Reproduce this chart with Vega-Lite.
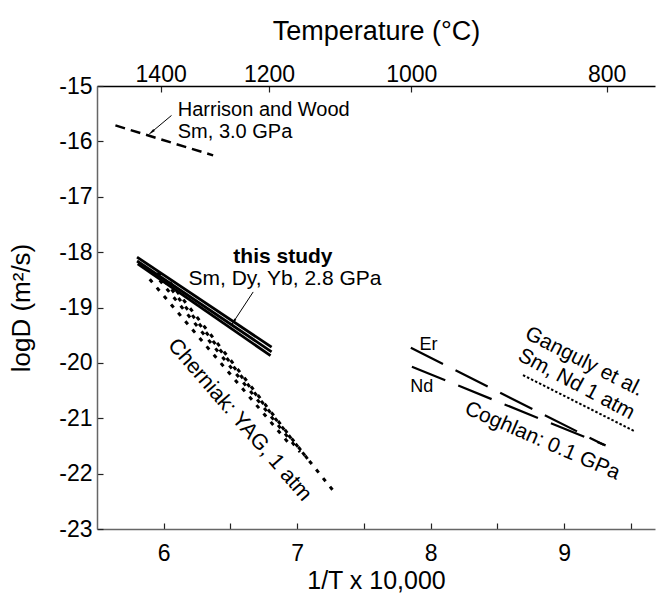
{
  "$schema": "https://vega.github.io/schema/vega-lite/v6.json",
  "width": 558,
  "height": 443,
  "autosize": "none",
  "padding": {"left": 97, "top": 86, "right": 1, "bottom": 66},
  "background": "white",
  "config": {
    "font": "Liberation Sans",
    "view": {"stroke": null},
    "axis": {"labelFont": "Liberation Sans", "titleFont": "Liberation Sans", "labelColor": "#000", "titleColor": "#000", "titleFontWeight": "normal", "grid": false, "labelFontSize": 23, "titleFontSize": 26, "tickColor": "#222", "tickWidth": 1.2, "domainWidth": 1.5, "labelFlush": false, "labelOverlap": false}
  },
  "datasets": {
    "lines": [
      {"grp": "study", "s": "s1", "x": 5.80, "y": -18.09},
      {"grp": "study", "s": "s1", "x": 6.808, "y": -19.716},
      {"grp": "study", "s": "s2", "x": 5.80, "y": -18.16},
      {"grp": "study", "s": "s2", "x": 6.808, "y": -19.80},
      {"grp": "study", "s": "s3", "x": 5.805, "y": -18.21},
      {"grp": "study", "s": "s3", "x": 6.80, "y": -19.87},
      {"grp": "hw", "s": "h1", "x": 5.638, "y": -15.712},
      {"grp": "hw", "s": "h1", "x": 6.370, "y": -16.253},
      {"grp": "cher", "s": "c1", "x": 5.895, "y": -18.49},
      {"grp": "cher", "s": "c1", "x": 6.961, "y": -21.52},
      {"grp": "cher", "s": "c2", "x": 5.970, "y": -18.508},
      {"grp": "cher", "s": "c2", "x": 7.021, "y": -21.61},
      {"grp": "cher", "s": "c3", "x": 6.045, "y": -18.544},
      {"grp": "cher", "s": "c3", "x": 7.096, "y": -21.79},
      {"grp": "cher", "s": "c4", "x": 5.955, "y": -18.364},
      {"grp": "cher", "s": "c4", "x": 7.283, "y": -22.349},
      {"grp": "cogh", "s": "Er", "x": 7.851, "y": -19.728},
      {"grp": "cogh", "s": "Er", "x": 9.296, "y": -21.48},
      {"grp": "cogh", "s": "Nd", "x": 7.859, "y": -20.071},
      {"grp": "cogh", "s": "Nd", "x": 9.31, "y": -21.49},
      {"grp": "gang", "s": "g1", "x": 8.691, "y": -20.221},
      {"grp": "gang", "s": "g1", "x": 9.534, "y": -21.243}
    ],
    "arrows": [
      {"id": "hw", "x": 6.058, "y": -15.532, "x2": 5.912, "y2": -15.826},
      {"id": "study", "x": 6.670, "y": -18.719, "x2": 6.525, "y2": -19.25}
    ],
    "notes": [
      {"id": "hw1", "label": "Harrison and Wood", "x": 6.105, "y": -15.55},
      {"id": "hw2", "label": "Sm, 3.0 GPa", "x": 6.105, "y": -15.938},
      {"id": "st1", "label": "this study", "x": 6.893, "y": -18.201},
      {"id": "st2", "label": "Sm, Dy, Yb, 2.8 GPa", "x": 6.908, "y": -18.598},
      {"id": "cher", "label": "Cherniak: YAG, 1 atm", "x": 6.567, "y": -21.033},
      {"id": "er", "label": "Er", "x": 7.983, "y": -19.68},
      {"id": "nd", "label": "Nd", "x": 7.933, "y": -20.43},
      {"id": "cogh", "label": "Coghlan:  0.1 GPa", "x": 8.836, "y": -21.411},
      {"id": "g1", "label": "Ganguly et al.", "x": 9.150, "y": -19.981},
      {"id": "g2", "label": "Sm, Nd 1 atm", "x": 9.090, "y": -20.387}
    ]
  },
  "resolve": {"axis": {"x": "independent"}},
  "layer": [
    {
      "data": {"name": "lines"},
      "transform": [{"filter": "datum.grp == 'study'"}],
      "mark": {"type": "line", "color": "black", "strokeWidth": 2.8},
      "encoding": {
        "x": {"field": "x", "type": "quantitative", "scale": {"domain": [5.5, 9.68], "nice": false, "zero": false},
          "axis": {"orient": "bottom", "values": [6, 6.5, 7, 7.5, 8, 8.5, 9, 9.5], "labelExpr": "datum.value % 1 == 0 ? format(datum.value, 'd') : ''", "title": "1/T x 10,000", "tickSize": -6, "labelPadding": 19, "titlePadding": 3, "titleFontSize": 25, "domainColor": "#666"}},
        "y": {"field": "y", "type": "quantitative", "scale": {"domain": [-23, -15], "nice": false, "zero": false},
          "axis": {"values": [-23, -22, -21, -20, -19, -18, -17, -16, -15], "labelExpr": "'-' + format(abs(datum.value), 'd')", "title": "logD (m²/s)", "tickSize": -6, "labelPadding": 11, "titlePadding": 24, "domainColor": "#666"}},
        "detail": {"field": "s"}
      }
    },
    {
      "data": {"name": "lines"},
      "transform": [{"filter": "datum.grp == 'hw'"}],
      "mark": {"type": "line", "color": "black", "strokeWidth": 2.5, "strokeDash": [10, 6]},
      "encoding": {
        "x": {"field": "x", "type": "quantitative",
          "axis": {"orient": "top", "values": [5.9767, 6.7882, 7.8545, 9.3184], "labelExpr": "format(round(10000 / datum.value - 273.15), 'd')", "title": "Temperature (°C)", "tickSize": -6, "labelPadding": 6, "titlePadding": 18, "titleFontSize": 27, "domainColor": "#000"}},
        "y": {"field": "y", "type": "quantitative"},
        "detail": {"field": "s"}
      }
    },
    {
      "data": {"name": "lines"},
      "transform": [{"filter": "datum.grp == 'cher'"}],
      "mark": {"type": "line", "color": "black", "strokeWidth": 3, "strokeDash": [4, 7]},
      "encoding": {
        "x": {"field": "x", "type": "quantitative", "axis": null},
        "y": {"field": "y", "type": "quantitative"},
        "detail": {"field": "s"}
      }
    },
    {
      "data": {"name": "lines"},
      "transform": [{"filter": "datum.grp == 'cogh'"}],
      "mark": {"type": "line", "color": "black", "strokeWidth": 2.2, "strokeDash": [36, 14]},
      "encoding": {
        "x": {"field": "x", "type": "quantitative", "axis": null},
        "y": {"field": "y", "type": "quantitative"},
        "detail": {"field": "s"}
      }
    },
    {
      "data": {"name": "lines"},
      "transform": [{"filter": "datum.grp == 'gang'"}],
      "mark": {"type": "line", "color": "black", "strokeWidth": 2, "strokeDash": [2.5, 2]},
      "encoding": {
        "x": {"field": "x", "type": "quantitative", "axis": null},
        "y": {"field": "y", "type": "quantitative"},
        "detail": {"field": "s"}
      }
    },
    {
      "data": {"name": "arrows"},
      "mark": {"type": "rule", "color": "black", "strokeWidth": 1},
      "encoding": {
        "x": {"field": "x", "type": "quantitative", "axis": null},
        "y": {"field": "y", "type": "quantitative"},
        "x2": {"field": "x2"},
        "y2": {"field": "y2"}
      }
    },
    {
      "data": {"name": "arrows"},
      "transform": [{"filter": "datum.id == 'hw'"}],
      "mark": {"type": "point", "shape": "wedge", "filled": true, "color": "black", "size": 90, "angle": 230, "opacity": 1},
      "encoding": {
        "x": {"field": "x2", "type": "quantitative", "axis": null},
        "y": {"field": "y2", "type": "quantitative"}
      }
    },
    {
      "data": {"name": "arrows"},
      "transform": [{"filter": "datum.id == 'study'"}],
      "mark": {"type": "point", "shape": "wedge", "filled": true, "color": "black", "size": 90, "angle": 214, "opacity": 1},
      "encoding": {
        "x": {"field": "x2", "type": "quantitative", "axis": null},
        "y": {"field": "y2", "type": "quantitative"}
      }
    },
    {
      "data": {"name": "notes"},
      "transform": [{"filter": "datum.id == 'hw1' || datum.id == 'hw2'"}],
      "mark": {"type": "text", "align": "left", "baseline": "alphabetic", "fontSize": 20, "color": "black"},
      "encoding": {
        "x": {"field": "x", "type": "quantitative", "axis": null},
        "y": {"field": "y", "type": "quantitative"},
        "text": {"field": "label"}
      }
    },
    {
      "data": {"name": "notes"},
      "transform": [{"filter": "datum.id == 'st1'"}],
      "mark": {"type": "text", "align": "center", "baseline": "alphabetic", "fontSize": 21, "fontWeight": "bold", "color": "black"},
      "encoding": {
        "x": {"field": "x", "type": "quantitative", "axis": null},
        "y": {"field": "y", "type": "quantitative"},
        "text": {"field": "label"}
      }
    },
    {
      "data": {"name": "notes"},
      "transform": [{"filter": "datum.id == 'st2'"}],
      "mark": {"type": "text", "align": "center", "baseline": "alphabetic", "fontSize": 21, "color": "black"},
      "encoding": {
        "x": {"field": "x", "type": "quantitative", "axis": null},
        "y": {"field": "y", "type": "quantitative"},
        "text": {"field": "label"}
      }
    },
    {
      "data": {"name": "notes"},
      "transform": [{"filter": "datum.id == 'cher'"}],
      "mark": {"type": "text", "align": "center", "baseline": "middle", "fontSize": 21.5, "angle": 49, "color": "black"},
      "encoding": {
        "x": {"field": "x", "type": "quantitative", "axis": null},
        "y": {"field": "y", "type": "quantitative"},
        "text": {"field": "label"}
      }
    },
    {
      "data": {"name": "notes"},
      "transform": [{"filter": "datum.id == 'er' || datum.id == 'nd'"}],
      "mark": {"type": "text", "align": "center", "baseline": "middle", "fontSize": 18, "color": "black"},
      "encoding": {
        "x": {"field": "x", "type": "quantitative", "axis": null},
        "y": {"field": "y", "type": "quantitative"},
        "text": {"field": "label"}
      }
    },
    {
      "data": {"name": "notes"},
      "transform": [{"filter": "datum.id == 'cogh'"}],
      "mark": {"type": "text", "align": "center", "baseline": "middle", "fontSize": 21, "angle": 23.5, "color": "black"},
      "encoding": {
        "x": {"field": "x", "type": "quantitative", "axis": null},
        "y": {"field": "y", "type": "quantitative"},
        "text": {"field": "label"}
      }
    },
    {
      "data": {"name": "notes"},
      "transform": [{"filter": "datum.id == 'g1'"}],
      "mark": {"type": "text", "align": "center", "baseline": "middle", "fontSize": 21, "angle": 27, "color": "black"},
      "encoding": {
        "x": {"field": "x", "type": "quantitative", "axis": null},
        "y": {"field": "y", "type": "quantitative"},
        "text": {"field": "label"}
      }
    },
    {
      "data": {"name": "notes"},
      "transform": [{"filter": "datum.id == 'g2'"}],
      "mark": {"type": "text", "align": "center", "baseline": "middle", "fontSize": 21, "angle": 28, "color": "black"},
      "encoding": {
        "x": {"field": "x", "type": "quantitative", "axis": null},
        "y": {"field": "y", "type": "quantitative"},
        "text": {"field": "label"}
      }
    }
  ]
}
